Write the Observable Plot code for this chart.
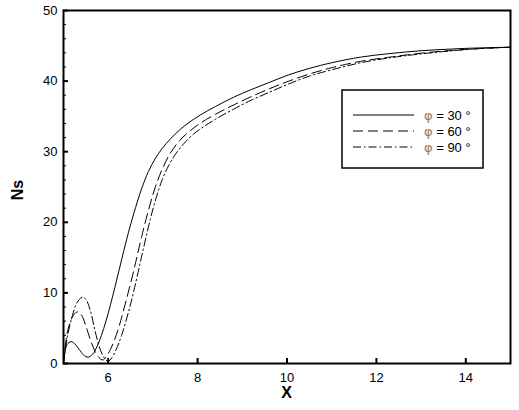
<!DOCTYPE html>
<html>
<head>
<meta charset="utf-8">
<script src="https://cdn.jsdelivr.net/npm/d3@7"></script>
<script src="https://cdn.jsdelivr.net/npm/@observablehq/plot@0.6"></script>
<style>
  html, body { margin: 0; padding: 0; background: #fff; }
  #chart svg { display: block; }
</style>
</head>
<body>
<div id="chart"></div>
<script>
// ---- data ----
const xPhi30 = [5.0,5.03,5.08,5.17,5.25,5.35,5.45,5.55,5.65,5.75,5.85,5.95,6.05,6.15,6.25,6.35,6.45,6.57,6.75,6.9,7.05,7.2,7.39,7.6,7.8,8.06,8.4,8.8,9.2,9.6,10.0,10.5,11.0,11.65,12.3,13.0,13.7,14.3,15.0];
const yPhi30 = [0,1.5,2.7,3.1,2.8,2.0,1.2,0.9,1.3,2.4,4.0,6.0,8.3,10.8,13.4,16.0,18.5,21.2,24.8,27.2,29.0,30.4,31.8,33.1,34.1,35.2,36.4,37.7,38.8,39.8,40.8,41.8,42.6,43.4,43.9,44.3,44.55,44.7,44.8];

const xPhi60 = [5.0,5.04,5.1,5.2,5.3,5.4,5.5,5.6,5.7,5.8,5.88,5.95,6.05,6.15,6.25,6.4,6.55,6.65,6.75,6.9,7.05,7.2,7.39,7.6,7.84,8.1,8.4,8.8,9.2,9.6,10.0,10.5,11.0,11.65,12.3,13.0,13.7,14.3,15.0];
const yPhi60 = [0,2.5,4.8,6.6,7.3,6.9,5.3,3.4,1.8,0.8,0.5,0.9,2.0,3.5,5.4,8.9,12.6,15.3,18.0,21.7,24.9,27.4,29.8,31.6,33.0,34.2,35.3,36.6,37.8,38.9,39.9,41.0,41.9,42.8,43.4,43.95,44.35,44.6,44.8];

const xPhi90 = [5.0,5.04,5.1,5.2,5.3,5.42,5.5,5.6,5.7,5.8,5.9,6.0,6.08,6.18,6.3,6.45,6.57,6.75,6.94,7.08,7.2,7.35,7.5,7.7,7.91,8.15,8.4,8.8,9.2,9.6,10.0,10.5,11.0,11.65,12.3,13.0,13.7,14.3,15.0];
const yPhi90 = [0,2.0,4.2,6.8,8.6,9.4,9.1,7.5,4.8,2.4,0.9,0.3,0.8,2.0,4.0,7.2,10.2,15.2,20.4,23.6,25.9,28.0,29.6,31.2,32.5,33.6,34.6,36.0,37.3,38.4,39.5,40.7,41.6,42.6,43.3,43.85,44.3,44.6,44.8];

const seriesSymbol = "\u03C6";
const seriesLabels = ["= 30 \u00B0", "= 60 \u00B0", "= 90 \u00B0"];
const xTicks = [6, 8, 10, 12, 14];
const yTicks = [0, 10, 20, 30, 40, 50];
const yMinorTicks = [2,4,6,8,12,14,16,18,22,24,26,28,32,34,36,38,42,44,46,48];

// ---- build table ----
const dashes = [null, "10,5", "8,3,1.5,3"];
const series = [[xPhi30, yPhi30], [xPhi60, yPhi60], [xPhi90, yPhi90]];
const rows = series.flatMap(([xs, ys], i) => xs.map((x, j) => ({x, y: ys[j], s: i})));

const FONT = "'Liberation Sans', Arial, sans-serif";

const plot = Plot.plot({
  width: 519,
  height: 410,
  marginLeft: 63,
  marginRight: 9,
  marginTop: 10,
  marginBottom: 47,
  style: {fontFamily: FONT, fontSize: "13px", color: "#000", background: "#fff"},
  x: {domain: [5, 15]},
  y: {domain: [0, 50]},
  marks: [
    ...seriesLabels.map((lab, i) => Plot.line(rows.filter(d => d.s === i), {
      x: "x", y: "y", stroke: "#000", strokeWidth: 1,
      strokeDasharray: dashes[i], curve: "catmull-rom"
    })),
    Plot.axisY(yTicks, {tickSize: 0, tickPadding: 6, label: null, fontSize: 13}),
    Plot.axisY(yTicks, {tickSize: -5, text: null, label: null, strokeWidth: 2}),
    Plot.axisY(yMinorTicks, {tickSize: -3, text: null, label: null, strokeWidth: 1}),
    Plot.axisX(xTicks, {tickSize: 0, tickPadding: 9, label: null, fontSize: 13}),
    Plot.axisX(xTicks, {tickSize: -5, text: null, label: null, strokeWidth: 2}),
    Plot.frame({stroke: "#000", strokeWidth: 2})
  ]
});

const svg = d3.select(plot);
svg.append("text")
  .attr("x", 63 + (510 - 63) / 2)
  .attr("y", 398)
  .attr("text-anchor", "middle")
  .attr("font-family", FONT)
  .attr("font-weight", "bold")
  .attr("font-size", 16)
  .text("X");
svg.append("text")
  .attr("transform", "translate(23,190) rotate(-90)")
  .attr("text-anchor", "middle")
  .attr("font-family", FONT)
  .attr("font-weight", "bold")
  .attr("font-size", 16)
  .text("Ns");

// legend
const lg = svg.append("g").attr("text-anchor", "start");
lg.append("rect")
  .attr("x", 342).attr("y", 90).attr("width", 141).attr("height", 78)
  .attr("fill", "#fff").attr("stroke", "#000").attr("stroke-width", 1.5);
seriesLabels.forEach((lab, i) => {
  const yy = 115 + i * 16;
  lg.append("line")
    .attr("x1", 353).attr("x2", 414).attr("y1", yy).attr("y2", yy)
    .attr("stroke", "#000").attr("stroke-width", 1)
    .attr("stroke-dasharray", dashes[i]);
  const t = lg.append("text")
    .attr("x", 424).attr("y", yy + 5)
    .attr("text-anchor", "start")
    .attr("font-family", FONT).attr("font-size", 13);
  t.append("tspan").attr("font-family", "'DejaVu Sans', sans-serif").attr("fill", "#9a7a3a").text(seriesSymbol);
  t.append("tspan").text(" " + lab);
});

document.getElementById("chart").appendChild(plot);
</script>
</body>
</html>
